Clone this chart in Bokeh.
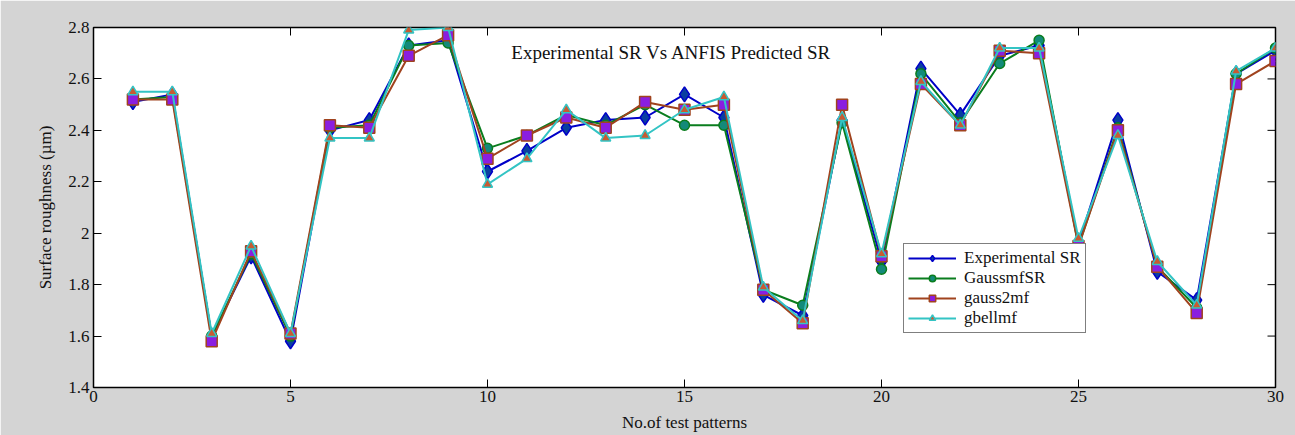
import math
from bokeh.plotting import figure
from bokeh.models import Legend, LegendItem, FixedTicker, Label
from bokeh.embed import file_html
from bokeh.resources import INLINE

patterns = list(range(1, 31))
experimental = [2.51, 2.54, 1.60, 1.91, 1.58, 2.40, 2.44, 2.73, 2.75, 2.24,
                2.32, 2.41, 2.44, 2.45, 2.54, 2.45, 1.76, 1.68, 2.44, 1.89,
                2.64, 2.46, 2.69, 2.73, 1.96, 2.44, 1.85, 1.74, 2.62, 2.71]
gaussmf = [2.52, 2.53, 1.60, 1.92, 1.60, 2.41, 2.42, 2.73, 2.74, 2.33,
           2.38, 2.46, 2.42, 2.50, 2.42, 2.42, 1.78, 1.72, 2.43, 1.86,
           2.62, 2.43, 2.66, 2.75, 1.95, 2.41, 1.87, 1.71, 2.62, 2.72]
gauss2mf = [2.52, 2.52, 1.58, 1.93, 1.61, 2.42, 2.41, 2.69, 2.77, 2.29,
            2.38, 2.45, 2.41, 2.51, 2.48, 2.50, 1.78, 1.65, 2.50, 1.91,
            2.58, 2.42, 2.71, 2.70, 1.95, 2.40, 1.87, 1.69, 2.58, 2.67]
gbellmf = [2.55, 2.55, 1.61, 1.95, 1.61, 2.37, 2.37, 2.79, 2.80, 2.19,
           2.29, 2.48, 2.37, 2.38, 2.48, 2.53, 1.79, 1.66, 2.45, 1.92,
           2.59, 2.42, 2.72, 2.72, 1.98, 2.38, 1.89, 1.72, 2.63, 2.72]
x_ticks = [0, 5, 10, 15, 20, 25, 30]
y_ticks = [1.4, 1.6, 1.8, 2.0, 2.2, 2.4, 2.6, 2.8]
y_labels = ["1.4", "1.6", "1.8", "2", "2.2", "2.4", "2.6", "2.8"]

FONT = "Liberation Serif"
X_MIN, X_MAX, Y_MIN, Y_MAX = 0, 30, 1.4, 2.8

p = figure(width=1295, height=435, x_range=(X_MIN, X_MAX), y_range=(Y_MIN, Y_MAX),
           output_backend="svg", toolbar_location=None,
           background_fill_color="white", border_fill_color="#d4d4d4",
           min_border_left=93, min_border_right=20, min_border_top=27, min_border_bottom=48)
p.xgrid.visible = False
p.ygrid.visible = False
p.outline_line_color = "black"
p.outline_line_width = 1.5

for ax in (p.xaxis[0], p.yaxis[0]):
    ax.major_tick_in = 8
    ax.major_tick_out = 0
    ax.minor_tick_in = 0
    ax.minor_tick_out = 0
    ax.axis_line_color = "black"
    ax.major_label_text_font = FONT
    ax.major_label_text_font_size = "17px"
    ax.major_label_text_color = "#111111"
    ax.axis_label_text_font = FONT
    ax.axis_label_text_font_size = "17px"
    ax.axis_label_text_font_style = "normal"
    ax.axis_label_text_color = "#111111"

p.xaxis[0].ticker = FixedTicker(ticks=x_ticks)
p.yaxis[0].ticker = FixedTicker(ticks=y_ticks)
p.yaxis[0].major_label_overrides = {t: l for t, l in zip(y_ticks, y_labels)}
p.xaxis[0].axis_label = "No.of test patterns"
p.yaxis[0].axis_label = "Surface roughness (µm)"
p.xaxis[0].major_label_standoff = 3
p.yaxis[0].major_label_standoff = 4
p.xaxis[0].axis_label_standoff = 8
p.yaxis[0].axis_label_standoff = 10

# inward ticks on the top and right edges
p.ray(x=x_ticks, y=[Y_MAX] * len(x_ticks), length=8, angle=-math.pi / 2,
      length_units="screen", line_color="black", line_width=1)
p.ray(x=[X_MAX] * len(y_ticks), y=y_ticks, length=8, angle=math.pi,
      length_units="screen", line_color="black", line_width=1)

lw = 2
r1 = p.line(patterns, experimental, line_color="#0000c8", line_width=lw)
m1 = p.scatter(patterns, experimental, marker="diamond", size=15,
               fill_color="#0a3fa0", line_color="#0000c8", line_width=1.5)
r2 = p.line(patterns, gaussmf, line_color="#0a7d1e", line_width=lw)
m2 = p.scatter(patterns, gaussmf, marker="circle", size=10,
               fill_color="#138a7a", line_color="#0a7d1e", line_width=1.5)
r3 = p.line(patterns, gauss2mf, line_color="#a0431e", line_width=lw)
m3 = p.scatter(patterns, gauss2mf, marker="square", size=11,
               fill_color="#8a1ee0", line_color="#a0431e", line_width=1.5)
r4 = p.line(patterns, gbellmf, line_color="#33c4c4", line_width=lw)
m4 = p.scatter(patterns, gbellmf, marker="triangle", size=10,
               fill_color="#c85a32", line_color="#33c4c4", line_width=1.5)

legend = Legend(items=[
    LegendItem(label="Experimental SR", renderers=[r1, m1]),
    LegendItem(label="GaussmfSR", renderers=[r2, m2]),
    LegendItem(label="gauss2mf", renderers=[r3, m3]),
    LegendItem(label="gbellmf", renderers=[r4, m4]),
], location=(810, 54))
legend.label_text_font = FONT
legend.label_text_font_size = "17px"
legend.label_text_color = "#111111"
legend.border_line_color = "black"
legend.border_line_width = 1
legend.glyph_width = 48
legend.glyph_height = 16
legend.label_height = 16
legend.label_standoff = 8
legend.spacing = 0
legend.padding = 4
legend.margin = 0
legend.background_fill_alpha = 1
p.add_layout(legend, "center")

title = Label(x=578, y=325, x_units="screen", y_units="screen",
              text="Experimental SR Vs ANFIS Predicted SR", text_font=FONT,
              text_font_size="19px", text_color="#111111", text_align="center")
p.add_layout(title)

open("out.html", "w").write(file_html(p, INLINE))
